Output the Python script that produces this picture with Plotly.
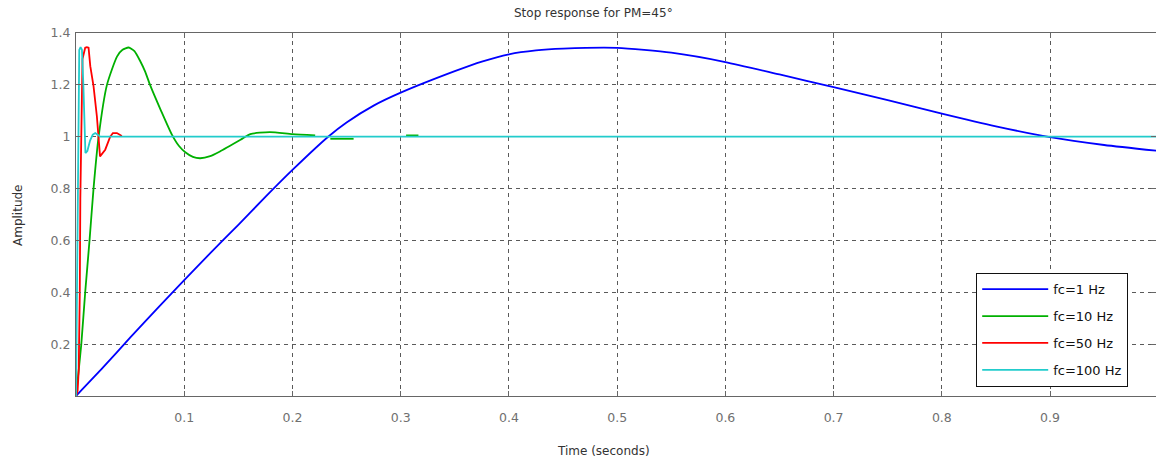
import plotly.graph_objects as go

# Step responses (time in seconds, amplitude)
t_1hz = [0, 0.025, 0.05, 0.075, 0.1, 0.125, 0.15, 0.175, 0.2, 0.233, 0.25, 0.275,
         0.3, 0.35, 0.375, 0.4, 0.425, 0.45, 0.5, 0.55, 0.6, 0.65, 0.7, 0.75, 0.8, 0.85,
         0.9, 0.95, 0.998]
y_1hz = [0, 0.11, 0.225, 0.337, 0.447, 0.555, 0.66, 0.768, 0.872, 1.0, 1.055, 1.12,
         1.17, 1.253, 1.29, 1.318, 1.333, 1.34, 1.343, 1.324, 1.288, 1.24, 1.191, 1.141, 1.089, 1.04,
         0.998, 0.968, 0.946]

t_10hz = [0, 0.0025, 0.0049, 0.0085, 0.0125, 0.0162, 0.0209, 0.0286, 0.038, 0.043, 0.0486,
          0.054, 0.0594, 0.064, 0.0686, 0.0786, 0.0886, 0.095, 0.101, 0.108, 0.1148, 0.124,
          0.133, 0.152, 0.161, 0.179, 0.2, 0.221,
          None, 0.235, 0.2565, None, 0.305, 0.3164]
y_10hz = [0, 0.1, 0.2, 0.4, 0.6, 0.8, 1.0, 1.2, 1.31, 1.335, 1.344,
          1.33, 1.291, 1.25, 1.198, 1.1, 1.008, 0.965, 0.94, 0.922, 0.917, 0.925,
          0.943, 0.988, 1.01, 1.018, 1.01, 1.005,
          None, 0.992, 0.992, None, 1.005, 1.005]

t_50hz = [0, 0.0015, 0.0025, 0.0035, 0.004, 0.0045, 0.005, 0.006, 0.0085, 0.010, 0.0116,
          0.0132, 0.0162, 0.0193, 0.0222, 0.027, 0.0316, 0.0341, 0.0378, 0.0424]
y_50hz = [0, 0.02, 0.1, 0.4, 0.76, 0.92, 1.1, 1.3, 1.343, 1.345, 1.343,
          1.272, 1.195, 1.078, 0.924, 0.95, 1.0, 1.014, 1.014, 1.003]

t_100hz = [0, 0.0008, 0.0015, 0.0022, 0.003, 0.0042, 0.0055, 0.0068, 0.0078, 0.0087,
           0.0105, 0.013, 0.0155, 0.0178, 0.020, 0.0224, 0.998]
y_100hz = [0, 0.35, 0.85, 1.2, 1.335, 1.345, 1.335, 1.2, 1.05, 0.937,
           0.945, 0.985, 1.008, 1.014, 1.008, 1.0, 1.0]

x_ticks = [0.1, 0.2, 0.3, 0.4, 0.5, 0.6, 0.7, 0.8, 0.9]
x_labels = ["0.1", "0.2", "0.3", "0.4", "0.5", "0.6", "0.7", "0.8", "0.9"]
y_ticks = [0.2, 0.4, 0.6, 0.8, 1.0, 1.2, 1.4]
y_labels = ["0.2", "0.4", "0.6", "0.8", "1", "1.2", "1.4"]

series = [
    ("fc=1 Hz", t_1hz, y_1hz, "#0000FF", "spline"),
    ("fc=10 Hz", t_10hz, y_10hz, "#00B000", "spline"),
    ("fc=50 Hz", t_50hz, y_50hz, "#FF0000", "linear"),
    ("fc=100 Hz", t_100hz, y_100hz, "#22CCCC", "linear"),
]

FONT = "DejaVu Sans, Liberation Sans, Arial, sans-serif"

fig = go.Figure()
for i, (name, t, y, color, shape) in enumerate(series):
    fig.add_trace(go.Scatter(
        x=t, y=y, mode="lines", name=name, legendgroup=f"g{i}",
        line=dict(color=color, width=1.8, shape=shape, smoothing=0.6),
        connectgaps=False,
    ))

axis_common = dict(
    showline=True, linecolor="#666666", linewidth=1.2, mirror="ticks",
    ticks="inside", ticklen=5, tickcolor="#666666",
    showgrid=True, gridcolor="#5a5a5a", gridwidth=1, griddash="4px,4px",
    zeroline=False,
    tickfont=dict(family=FONT, size=12.5, color="#707070"),
)

fig.update_xaxes(range=[0, 0.9979], tickvals=x_ticks, ticktext=x_labels,
                 ticklabelstandoff=10, **axis_common)
fig.update_yaxes(range=[0, 1.4], tickvals=y_ticks, ticktext=y_labels,
                 ticklabelstandoff=2, **axis_common)

text_font = dict(family=FONT, size=12, color="#333333")
W, H = 1156, 462
L, R, T, B = 76, 0, 33, 66
pw, ph = W - L - R, H - T - B

def px_to_paper(px, py):
    return (px - L) / pw, (H - B - py) / ph

annotations = []
for text, (px, py), angle in [
    ("Stop response for PM=45°", (593, 13), 0),
    ("Time (seconds)", (603, 451), 0),
    ("Amplitude", (18, 215), -90),
]:
    ax, ay = px_to_paper(px, py)
    annotations.append(dict(
        text=text, x=ax, y=ay, xref="paper", yref="paper",
        xanchor="center", yanchor="middle", showarrow=False,
        textangle=angle, font=text_font,
    ))

lx, ly = px_to_paper(976, 273)
fig.update_layout(
    width=W, height=H,
    margin=dict(l=L, r=R, t=T, b=B),
    plot_bgcolor="white", paper_bgcolor="white",
    annotations=annotations,
    legend=dict(
        x=lx, y=ly, xanchor="left", yanchor="top",
        bgcolor="white", bordercolor="#111111", borderwidth=1.2,
        font=dict(family=FONT, size=13, color="#111111"),
        tracegroupgap=7, itemwidth=66,
    ),
    showlegend=True,
)

fig.write_html("out.html")
